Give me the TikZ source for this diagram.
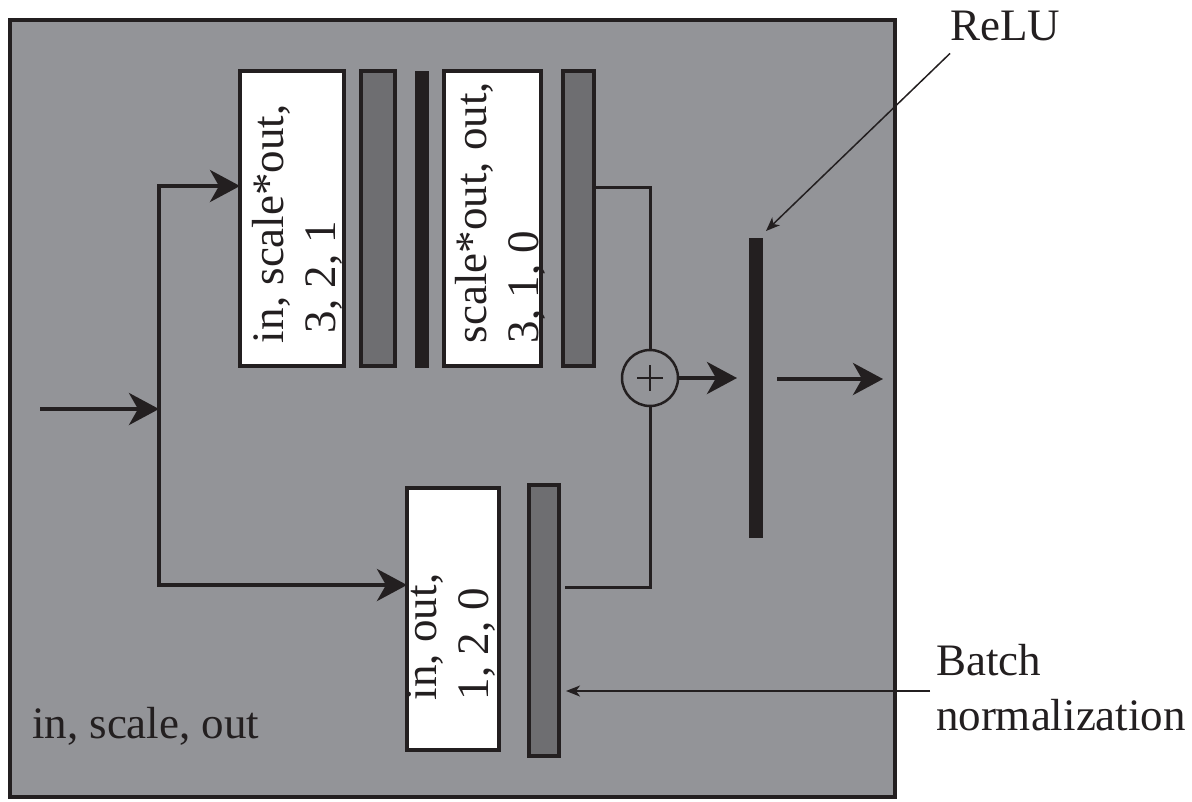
\documentclass[tikz,border=0pt]{standalone}
\usepackage{fontspec}
\setmainfont{Liberation Serif}
\usetikzlibrary{arrows.meta,calc}
\definecolor{panel}{HTML}{939498}
\definecolor{bnc}{HTML}{6E6E71}
\definecolor{ink}{HTML}{231F20}
\begin{document}
\begin{tikzpicture}[x=1pt,y=-1pt,
 every node/.style={inner sep=0pt, outer sep=0pt},
 conv/.style={draw=ink, line width=4pt, fill=white, rectangle},
 bn/.style={draw=ink, line width=4pt, fill=bnc, rectangle},
 act/.style={fill=ink, rectangle},
 flow/.style={draw=ink, line width=4pt, -{Stealth[length=30pt,width=32pt,inset=9pt]}},
 wire/.style={draw=ink, line width=3pt},
 pointer/.style={draw=ink, line width=1.5pt, -{Stealth[length=14pt,width=11pt,inset=4pt]}},
 lbl/.style={font=\fontsize{45}{52}\selectfont, text=ink},
 vlbl/.style={lbl, rotate=90, align=left, anchor=north west},
]
\useasboundingbox (0,0) rectangle (1192,801);
\node[draw=ink, fill=panel, line width=3.5pt, minimum width=885pt, minimum height=777pt] (frame) at (452.5,408.5) {};

\node[conv, minimum width=104pt, minimum height=295pt] (box1) at (292,218.5) {};
\node[bn, minimum width=34pt, minimum height=295pt] (bar1) at (378,218.5) {};
\node[act, minimum width=14pt, minimum height=297pt] (act1) at (422,219.5) {};
\node[conv, minimum width=97pt, minimum height=295pt] (box2) at (492.5,218.5) {};
\node[bn, minimum width=31pt, minimum height=295pt] (bar2) at (578.5,218.5) {};
\node[conv, minimum width=92pt, minimum height=262pt] (box3) at (453,619) {};
\node[bn, minimum width=30pt, minimum height=271pt] (bar3) at (544,620.5) {};
\node[act, minimum width=14pt, minimum height=300pt] (relu) at (756,388) {};
\node[circle, draw=ink, line width=2.5pt, minimum size=56pt,
  path picture={\draw[ink,line width=1.5pt] ($(path picture bounding box.center)+(-13,0)$) -- +(26,0) ($(path picture bounding box.center)+(0,-13)$) -- +(0,26);}] (sum) at (650,378) {};

\node[vlbl] (t1) at (252,343) {in, scale*out,\\\hspace*{10pt}3, 2, 1};
\node[vlbl] (t2) at (455,343) {scale*out, out,\\3, 1, 0};
\node[vlbl] (t3) at (407,700) {in, out,\\1, 2, 0};

\node[lbl, anchor=base west] (cfg) at (32,738) {in, scale, out};
\node[lbl, anchor=base west] (relulbl) at (950,40) {ReLU};
\node[lbl, align=left, anchor=north west, font=\fontsize{45}{55}\selectfont] (bnlbl) at (936,644) {Batch\\normalization};

\coordinate (in) at (40,409);
\coordinate (split) at (159,409);
\coordinate (out) at (883,379);
\coordinate (bntip) at ([yshift=-70.5pt]bar3.east);

\draw[flow] (in) -- (split);
\draw[flow] (split) |- ([yshift=32.5pt]box1.west);
\draw[flow] (split) |- ([yshift=34pt]box3.west);
\draw[wire] ([yshift=31.5pt]bar2.east) -| (sum.north);
\draw[wire] ([yshift=33.5pt,xshift=6pt]bar3.east) -| (sum.south);
\draw[flow, shorten >=12pt] (sum.east) -- (sum.east -| relu.west);
\draw[flow, shorten <=14pt] (relu.east |- out) -- (out);

\draw[pointer] ([yshift=-13pt]relulbl.south west) -- ([xshift=3pt,yshift=7pt]relu.north east);
\draw[pointer, shorten >=7pt] ([xshift=-6pt]bnlbl.west |- bntip) -- (bntip);
\end{tikzpicture}
\end{document}
